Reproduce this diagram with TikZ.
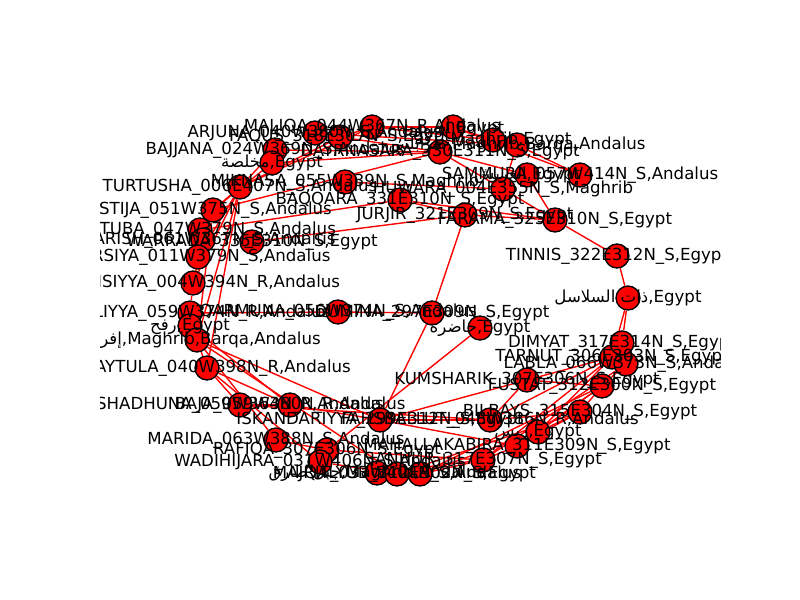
\documentclass[tikz,border=0pt]{standalone}
\usepackage{fontspec}
\setmainfont{DejaVu Sans}
\newfontfamily\arabicfont[Script=Arabic]{DejaVu Sans}
\TeXXeTstate=1
\newcommand{\arabtxt}[1]{{\arabicfont\beginR #1\endR}}
\pgfdeclarelayer{bg}
\pgfdeclarelayer{edges}
\pgfsetlayers{bg,edges,main}

\begin{document}
\begin{tikzpicture}[x=0.01in, y=-0.01in,
  site/.style={circle, draw=black, fill=red, line width=1pt, minimum size=17.3pt, inner sep=0pt},
  sitelabel/.style={inner sep=0pt, font=\fontsize{12}{14}\selectfont, text=black},
  road/.style={draw=red, line width=1pt}]

\begin{pgfonlayer}{bg}
\fill[white] (0,0) rectangle (800,600);
\end{pgfonlayer}
\useasboundingbox (0,0) rectangle (800,600);

% sites
\node[site] (maliqa) at (372, 127) {};
\node[site] (arjuna) at (315, 133) {};
\node[site] (faqus) at (340, 137) {};
\node[site] (bajjana) at (275, 150) {};
\node[site] (mukhlisa) at (272, 163) {};
\node[site] (turtusha) at (240, 187) {};
\node[site] (miknasa) at (345, 182) {};
\node[site] (istija) at (213, 210) {};
\node[site] (qurtuba) at (200, 230) {};
\node[site] (sharish) at (203, 240) {};
\node[site] (warrada) at (252, 242) {};
\node[site] (mursiya) at (198, 257) {};
\node[site] (balansiyya) at (193, 283) {};
\node[site] (ishbiliyya) at (190, 313) {};
\node[site] (qarmuna) at (338, 312) {};
\node[site] (rafah) at (190, 326) {};
\node[site] (ifriqiya) at (197, 340) {};
\node[site] (tulaytula) at (207, 368) {};
\node[site] (shadhuna) at (240, 405) {};
\node[site] (baja) at (290, 405) {};
\node[site] (iskandariyya) at (380, 420) {};
\node[site] (fahsballut) at (490, 420) {};
\node[site] (marida) at (276, 440) {};
\node[site] (rafiqa) at (327, 450) {};
\node[site] (wadihijara) at (320, 462) {};
\node[site] (jabaltariq) at (377, 473) {};
\node[site] (majrit) at (397, 474) {};
\node[site] (qalyub) at (420, 474) {};
\node[site] (sanhur) at (483, 460) {};
\node[site] (mahalla) at (517, 446) {};
\node[site] (zays) at (538, 432) {};
\node[site] (bilbays) at (580, 412) {};
\node[site] (kumsharik) at (527, 380) {};
\node[site] (fustat) at (602, 386) {};
\node[site] (tarnut) at (612, 357) {};
\node[site] (labla) at (626, 364) {};
\node[site] (dimyat) at (622, 343) {};
\node[site] (salasil) at (628, 298) {};
\node[site] (tinnis) at (617, 256) {};
\node[site] (farama) at (555, 220) {};
\node[site] (jurjir) at (465, 215) {};
\node[site] (huwara) at (503, 189) {};
\node[site] (baqqara) at (400, 200) {};
\node[site] (sammura) at (580, 175) {};
\node[site] (arish) at (527, 175) {};
\node[site] (nasara) at (440, 152) {};
\node[site] (ushmun) at (453, 127) {};
\node[site] (barqaeg) at (493, 140) {};
\node[site] (tarabulus) at (517, 145) {};
\node[site] (dumina) at (432, 313) {};
\node[site] (hadira) at (480, 328) {};

% roads
\begin{pgfonlayer}{edges}
\draw[road] (maliqa) -- (ushmun);
\draw[road] (maliqa) -- (faqus);
\draw[road] (maliqa) -- (barqaeg);
\draw[road] (arjuna) -- (tarabulus);
\draw[road] (faqus) -- (nasara);
\draw[road] (bajjana) -- (nasara);
\draw[road] (mukhlisa) -- (nasara);
\draw[road] (turtusha) -- (bajjana);
\draw[road] (turtusha) -- (faqus);
\draw[road] (turtusha) -- (maliqa);
\draw[road] (turtusha) -- (istija);
\draw[road] (turtusha) -- (mursiya);
\draw[road] (turtusha) -- (balansiyya);
\draw[road] (turtusha) -- (ifriqiya);
\draw[road] (turtusha) -- (tulaytula);
\draw[road] (mukhlisa) -- (istija);
\draw[road] (ushmun) -- (sammura);
\draw[road] (ushmun) -- (barqaeg);
\draw[road] (barqaeg) -- (tarabulus);
\draw[road] (tarabulus) -- (huwara);
\draw[road] (tarabulus) -- (sammura);
\draw[road] (nasara) -- (huwara);
\draw[road] (nasara) -- (arish);
\draw[road] (huwara) -- (farama);
\draw[road] (miknasa) -- (huwara);
\draw[road] (baqqara) -- (farama);
\draw[road] (baqqara) -- (jurjir);
\draw[road] (jurjir) -- (farama);
\draw[road] (arish) -- (farama);
\draw[road] (farama) -- (tinnis);
\draw[road] (tinnis) -- (salasil);
\draw[road] (salasil) -- (dimyat);
\draw[road] (salasil) -- (tarnut);
\draw[road] (istija) -- (nasara);
\draw[road] (istija) -- (qurtuba);
\draw[road] (istija) -- (ifriqiya);
\draw[road] (qurtuba) -- (baqqara);
\draw[road] (qurtuba) -- (mursiya);
\draw[road] (sharish) -- (balansiyya);
\draw[road] (warrada) -- (jurjir);
\draw[road] (mursiya) -- (balansiyya);
\draw[road] (balansiyya) -- (ishbiliyya);
\draw[road] (ishbiliyya) -- (rafah);
\draw[road] (ishbiliyya) -- (qarmuna);
\draw[road] (qarmuna) -- (dumina);
\draw[road] (rafah) -- (ifriqiya);
\draw[road] (ifriqiya) -- (tulaytula);
\draw[road] (ifriqiya) -- (iskandariyya);
\draw[road] (ifriqiya) -- (marida);
\draw[road] (ifriqiya) -- (majrit);
\draw[road] (rafah) -- (baja);
\draw[road] (tulaytula) -- (shadhuna);
\draw[road] (tulaytula) -- (baja);
\draw[road] (tulaytula) -- (wadihijara);
\draw[road] (dumina) -- (jurjir);
\draw[road] (dumina) -- (iskandariyya);
\draw[road] (hadira) -- (rafiqa);
\draw[road] (shadhuna) -- (baja);
\draw[road] (shadhuna) -- (fahsballut);
\draw[road] (baja) -- (iskandariyya);
\draw[road] (iskandariyya) -- (fahsballut);
\draw[road] (iskandariyya) -- (mahalla);
\draw[road] (iskandariyya) -- (kumsharik);
\draw[road] (fahsballut) -- (bilbays);
\draw[road] (marida) -- (rafiqa);
\draw[road] (rafiqa) -- (sanhur);
\draw[road] (wadihijara) -- (majrit);
\draw[road] (jabaltariq) -- (majrit);
\draw[road] (jabaltariq) -- (sanhur);
\draw[road] (majrit) -- (qalyub);
\draw[road] (majrit) -- (bilbays);
\draw[road] (qalyub) -- (sanhur);
\draw[road] (qalyub) -- (fustat);
\draw[road] (qalyub) -- (zays);
\draw[road] (sanhur) -- (mahalla);
\draw[road] (sanhur) -- (tarnut);
\draw[road] (mahalla) -- (bilbays);
\draw[road] (mahalla) -- (fustat);
\draw[road] (zays) -- (fustat);
\draw[road] (zays) -- (bilbays);
\draw[road] (zays) -- (tarnut);
\draw[road] (kumsharik) -- (fustat);
\draw[road] (kumsharik) -- (tarnut);
\draw[road] (kumsharik) -- (fahsballut);
\draw[road] (fustat) -- (bilbays);
\draw[road] (fustat) -- (labla);
\draw[road] (dimyat) -- (labla);
\draw[road] (tarnut) -- (fahsballut);
\draw[road] (labla) -- (sanhur);
\end{pgfonlayer}

% labels
\begin{scope}
\clip (100, 72) rectangle (720, 534);
\node[sitelabel] (l-maliqa) at (maliqa) {MALIQA\_044W367N\_R,Andalus};
\node[sitelabel] (l-arjuna) at (arjuna) {ARJUNA\_040W380N\_S,Andalus};
\node[sitelabel] (l-faqus) at (faqus) {FAQUS\_318E307N\_S,Egypt};
\node[sitelabel] (l-bajjana) at (bajjana) {BAJJANA\_024W369N\_S,Andalus};
\node[sitelabel] (l-mukhlisa) at (mukhlisa) {\arabtxt{مخلصة},Egypt};
\node[sitelabel] (l-turtusha) at (turtusha) {TURTUSHA\_006E407N\_S,Andalus};
\node[sitelabel] (l-miknasa) at (miknasa) {MIKNASA\_055W339N\_S,Maghrib};
\node[sitelabel] (l-istija) at (istija) {ISTIJA\_051W375N\_S,Andalus};
\node[sitelabel] (l-qurtuba) at (qurtuba) {QURTUBA\_047W379N\_S,Andalus};
\node[sitelabel] (l-sharish) at (sharish) {SHARISH\_061W367N\_S,Andalus};
\node[sitelabel] (l-warrada) at (warrada) {WARRADA\_335E310N\_S,Egypt};
\node[sitelabel] (l-mursiya) at (mursiya) {MURSIYA\_011W379N\_S,Andalus};
\node[sitelabel] (l-balansiyya) at (balansiyya) {BALANSIYYA\_004W394N\_R,Andalus};
\node[sitelabel] (l-ishbiliyya) at (ishbiliyya) {ISHBILIYYA\_059W374N\_R,Andalus};
\node[sitelabel] (l-qarmuna) at (qarmuna) {QARMUNA\_056W374N\_S,Andalus};
\node[sitelabel] (l-rafah) at (rafah) {\arabtxt{رفح},Egypt};
\node[sitelabel] (l-ifriqiya) at (ifriqiya) {\arabtxt{إفريقية},Maghrib,Barqa,Andalus};
\node[sitelabel] (l-tulaytula) at (tulaytula) {TULAYTULA\_040W398N\_R,Andalus};
\node[sitelabel] (l-shadhuna) at (shadhuna) {SHADHUNA\_059W364N\_R,Andalus};
\node[sitelabel] (l-baja) at (baja) {BAJA\_059W380N\_R,Andalus};
\node[sitelabel] (l-iskandariyya) at (iskandariyya) {ISKANDARIYYA\_299E312N\_S,Egypt};
\node[sitelabel] (l-fahsballut) at (fahsballut) {FAHSBALLUT\_048W386N\_R,Andalus};
\node[sitelabel] (l-marida) at (marida) {MARIDA\_063W388N\_S,Andalus};
\node[sitelabel] (l-rafiqa) at (rafiqa) {RAFIQA\_307E306N\_S,Egypt};
\node[sitelabel] (l-wadihijara) at (wadihijara) {WADIHIJARA\_031W406N\_S,Andalus};
\node[sitelabel] (l-jabaltariq) at (jabaltariq) {\arabtxt{جبل طارق},Maghrib,Andalus};
\node[sitelabel] (l-majrit) at (majrit) {MAJRIT\_037W404N\_S,Andalus};
\node[sitelabel] (l-qalyub) at (qalyub) {QALYUB\_312E302N\_S,Egypt};
\node[sitelabel] (l-sanhur) at (sanhur) {SANHUR\_317E307N\_S,Egypt};
\node[sitelabel] (l-mahalla) at (mahalla) {MAHALLAKABIRA\_311E309N\_S,Egypt};
\node[sitelabel] (l-zays) at (zays) {\arabtxt{زيس},Egypt};
\node[sitelabel] (l-bilbays) at (bilbays) {BILBAYS\_315E304N\_S,Egypt};
\node[sitelabel] (l-kumsharik) at (kumsharik) {KUMSHARIK\_307E306N\_S,Egypt};
\node[sitelabel] (l-fustat) at (fustat) {FUSTAT\_312E300N\_S,Egypt};
\node[sitelabel] (l-tarnut) at (tarnut) {TARNUT\_306E303N\_S,Egypt};
\node[sitelabel] (l-labla) at (labla) {LABLA\_066W373N\_S,Andalus};
\node[sitelabel] (l-dimyat) at (dimyat) {DIMYAT\_317E314N\_S,Egypt};
\node[sitelabel] (l-salasil) at (salasil) {\arabtxt{ذات السلاسل},Egypt};
\node[sitelabel] (l-tinnis) at (tinnis) {TINNIS\_322E312N\_S,Egypt};
\node[sitelabel] (l-farama) at (farama) {FARAMA\_325E310N\_S,Egypt};
\node[sitelabel] (l-jurjir) at (jurjir) {JURJIR\_321E309N\_S,Egypt};
\node[sitelabel] (l-huwara) at (huwara) {HUWARA\_004E355N\_S,Maghrib};
\node[sitelabel] (l-baqqara) at (baqqara) {BAQQARA\_331E310N\_S,Egypt};
\node[sitelabel] (l-sammura) at (sammura) {SAMMURA\_057W414N\_S,Andalus};
\node[sitelabel] (l-arish) at (arish) {\arabtxt{العريش},Egypt};
\node[sitelabel] (l-nasara) at (nasara) {DAYRNASARA\_330E311N\_S,Egypt};
\node[sitelabel] (l-ushmun) at (ushmun) {\arabtxt{أشمون},Egypt};
\node[sitelabel] (l-barqaeg) at (barqaeg) {\arabtxt{برقة},Maghrib,Egypt};
\node[sitelabel] (l-tarabulus) at (tarabulus) {\arabtxt{طرابلس},Maghrib,Barqa,Andalus};
\node[sitelabel] (l-dumina) at (dumina) {DUMINA\_297E309N\_S,Egypt};
\node[sitelabel] (l-hadira) at (hadira) {\arabtxt{حاضرة},Egypt};
\end{scope}

\end{tikzpicture}
\end{document}
